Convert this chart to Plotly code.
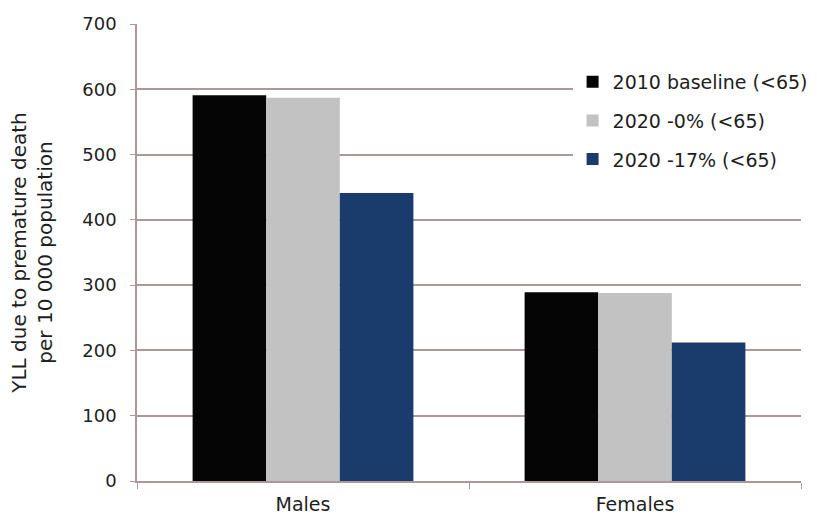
import plotly.graph_objects as go

categories = ["Males", "Females"]
series_names = ["2010 baseline (<65)", "2020 -0% (<65)", "2020 -17% (<65)"]
baseline_2010 = [591, 289]
scenario_0pct = [587, 288]
scenario_17pct = [441, 212]
y_ticks = [0, 100, 200, 300, 400, 500, 600, 700]

colors = ["#050505", "#c2c2c2", "#1a3c6c"]
grid_color = "#ab9898"
font_family = "DejaVu Sans, Verdana, sans-serif"
text_color = "#1e1e1e"

fig = go.Figure()
for name, vals, col in zip(series_names, [baseline_2010, scenario_0pct, scenario_17pct], colors):
    fig.add_trace(go.Bar(
        x=categories, y=vals, name=name, legendgroup=name,
        marker=dict(color=col, line=dict(width=0)),
    ))

fig.update_layout(
    width=817, height=516,
    margin=dict(l=137, r=16, t=24, b=35, autoexpand=False),
    paper_bgcolor="white", plot_bgcolor="white",
    font=dict(family=font_family, size=19, color=text_color),
    barmode="group", bargap=0.335, bargroupgap=0,
    showlegend=True,
    legend=dict(
        x=0.656, xanchor="left", y=0.915, yanchor="top",
        bgcolor="white", borderwidth=0,
        traceorder="grouped", tracegroupgap=11,
        font=dict(family=font_family, size=19, color=text_color),
        itemwidth=30,
    ),
)

fig.update_xaxes(
    automargin=False,
    showline=True, linecolor=grid_color, linewidth=1.5,
    ticks="outside", tickson="boundaries", ticklen=6, tickcolor=grid_color,
    ticklabelstandoff=5,
    tickfont=dict(family=font_family, size=19, color=text_color),
    showgrid=False,
)
fig.update_yaxes(
    automargin=False,
    range=[0, 700], tickvals=y_ticks,
    showline=True, linecolor=grid_color, linewidth=1.5,
    ticks="outside", ticklen=5, tickcolor=grid_color,
    ticklabelstandoff=10,
    tickfont=dict(family=font_family, size=18, color=text_color),
    showgrid=True, gridcolor=grid_color, gridwidth=1.5,
    zeroline=False,
    title=dict(
        text="YLL due to premature death<br>per 10 000 population",
        font=dict(family=font_family, size=20, color=text_color),
        standoff=24,
    ),
)

fig.write_html("out.html")
